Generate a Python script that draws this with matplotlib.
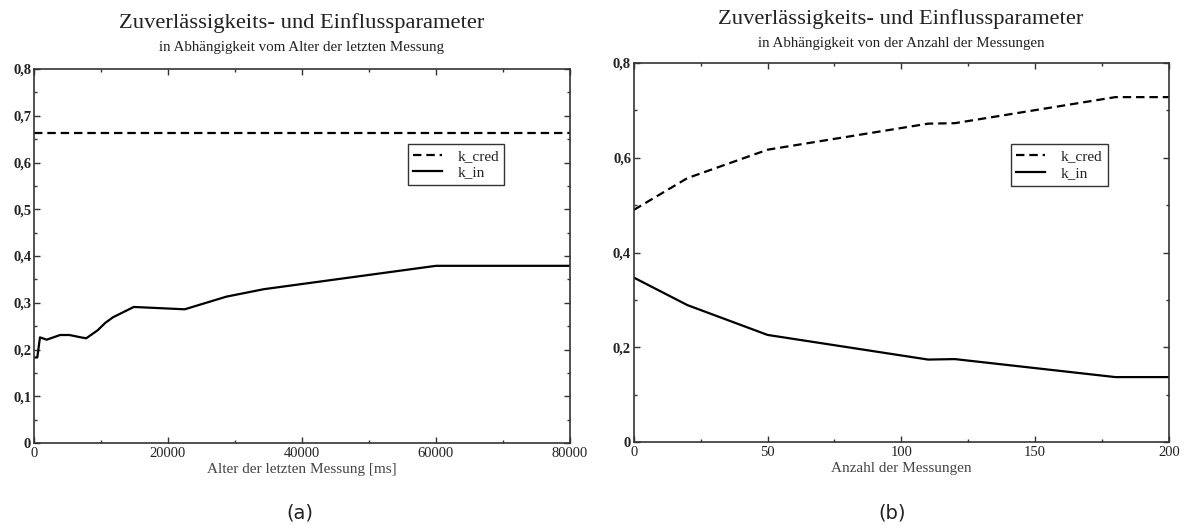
import matplotlib.pyplot as plt
from matplotlib.ticker import MultipleLocator, FuncFormatter

# (a) Alter der letzten Messung
age_ms = [0, 500, 900, 1900, 3900, 5300, 7000, 7800, 9500, 10650, 11800,
          14900, 22500, 28700, 34300, 60000, 80000]
k_in_age = [0.183, 0.183, 0.226, 0.221, 0.231, 0.231, 0.226, 0.224, 0.241,
            0.257, 0.269, 0.291, 0.286, 0.313, 0.329, 0.379, 0.379]
k_cred_age = [0.663, 0.663]
age_span = [0, 80000]

# (b) Anzahl der Messungen
n_meas = [0, 20, 50, 110, 120, 180, 200]
k_cred_n = [0.490, 0.557, 0.617, 0.672, 0.673, 0.728, 0.728]
k_in_n = [0.347, 0.289, 0.226, 0.174, 0.175, 0.137, 0.137]

title = "Zuverlässigkeits- und Einflussparameter"
sub_a = "in Abhängigkeit vom Alter der letzten Messung"
sub_b = "in Abhängigkeit von der Anzahl der Messungen"

serif = "Liberation Serif"
txt = "#222222"

fig = plt.figure(figsize=(11.87, 5.26), dpi=100)
ax1 = fig.add_axes([0.0286, 0.1578, 0.4516, 0.711])
ax2 = fig.add_axes([0.534, 0.1597, 0.4507, 0.7205])


def comma(v, pos):
    if abs(v) < 1e-9:
        return "0"
    return ("%.1f" % v).replace(".", ",")


def style(ax, xmaj, xmin, ymaj, ymin):
    ax.xaxis.set_major_locator(MultipleLocator(xmaj))
    ax.xaxis.set_minor_locator(MultipleLocator(xmin))
    ax.yaxis.set_major_locator(MultipleLocator(ymaj))
    ax.yaxis.set_minor_locator(MultipleLocator(ymin))
    ax.yaxis.set_major_formatter(FuncFormatter(comma))
    ax.tick_params(which="both", direction="in", top=True, right=True,
                   width=1.0, colors="#333333", labelcolor=txt)
    ax.tick_params(which="major", length=4.5, labelsize=10.5, pad=2)
    ax.tick_params(which="minor", length=2.5)
    ax.tick_params(axis="x", pad=3)
    for lab in ax.get_xticklabels():
        lab.set_fontfamily(serif)
    for lab in ax.get_yticklabels():
        lab.set_fontfamily(serif)
        lab.set_fontweight("bold")
    for s in ax.spines.values():
        s.set_linewidth(1.2)
        s.set_color("#333333")


dash = (0, (3.8, 2.2))

ax1.plot(age_span, k_cred_age, color="black", lw=1.6, ls=dash, label="k_cred")
ax1.plot(age_ms, k_in_age, color="black", lw=1.6, label="k_in")
ax1.set_xlim(0, 80000)
ax1.set_ylim(0, 0.8)
style(ax1, 20000, 10000, 0.1, 0.05)
ax1.set_xlabel("Alter der letzten Messung [ms]", fontfamily=serif, fontsize=11,
               color="#444444", labelpad=2)

ax2.plot(n_meas, k_cred_n, color="black", lw=1.6, ls=dash, label="k_cred")
ax2.plot(n_meas, k_in_n, color="black", lw=1.6, label="k_in")
ax2.set_xlim(0, 200)
ax2.set_ylim(0, 0.8)
style(ax2, 50, 25, 0.2, 0.1)
ax2.set_xlabel("Anzahl der Messungen", fontfamily=serif, fontsize=11,
               color="#444444", labelpad=2)

for ax, anchor in ((ax1, (0.697, 0.80)), (ax2, (0.705, 0.785))):
    leg = ax.legend(loc="upper left", bbox_to_anchor=anchor,
                    prop={"family": serif, "size": 11}, fancybox=False,
                    framealpha=1, edgecolor="#333333", handlelength=1.9,
                    borderpad=0.35, labelspacing=0.2, handletextpad=1.0,
                    borderaxespad=0)
    leg.get_frame().set_linewidth(1.0)
    for t in leg.get_texts():
        t.set_color(txt)

fig.text(0.254, 0.956, title, ha="center", va="center", fontfamily=serif,
         fontsize=16.2, color=txt)
fig.text(0.254, 0.909, sub_a, ha="center", va="center", fontfamily=serif,
         fontsize=10.8, color=txt)
fig.text(0.759, 0.964, title, ha="center", va="center", fontfamily=serif,
         fontsize=16.2, color=txt)
fig.text(0.759, 0.917, sub_b, ha="center", va="center", fontfamily=serif,
         fontsize=10.8, color=txt)

fig.text(0.253, 0.024, "(a)", ha="center", va="center", fontsize=14, color=txt)
fig.text(0.752, 0.024, "(b)", ha="center", va="center", fontsize=14, color=txt)

fig.savefig("out.png", dpi=100, facecolor="white")
